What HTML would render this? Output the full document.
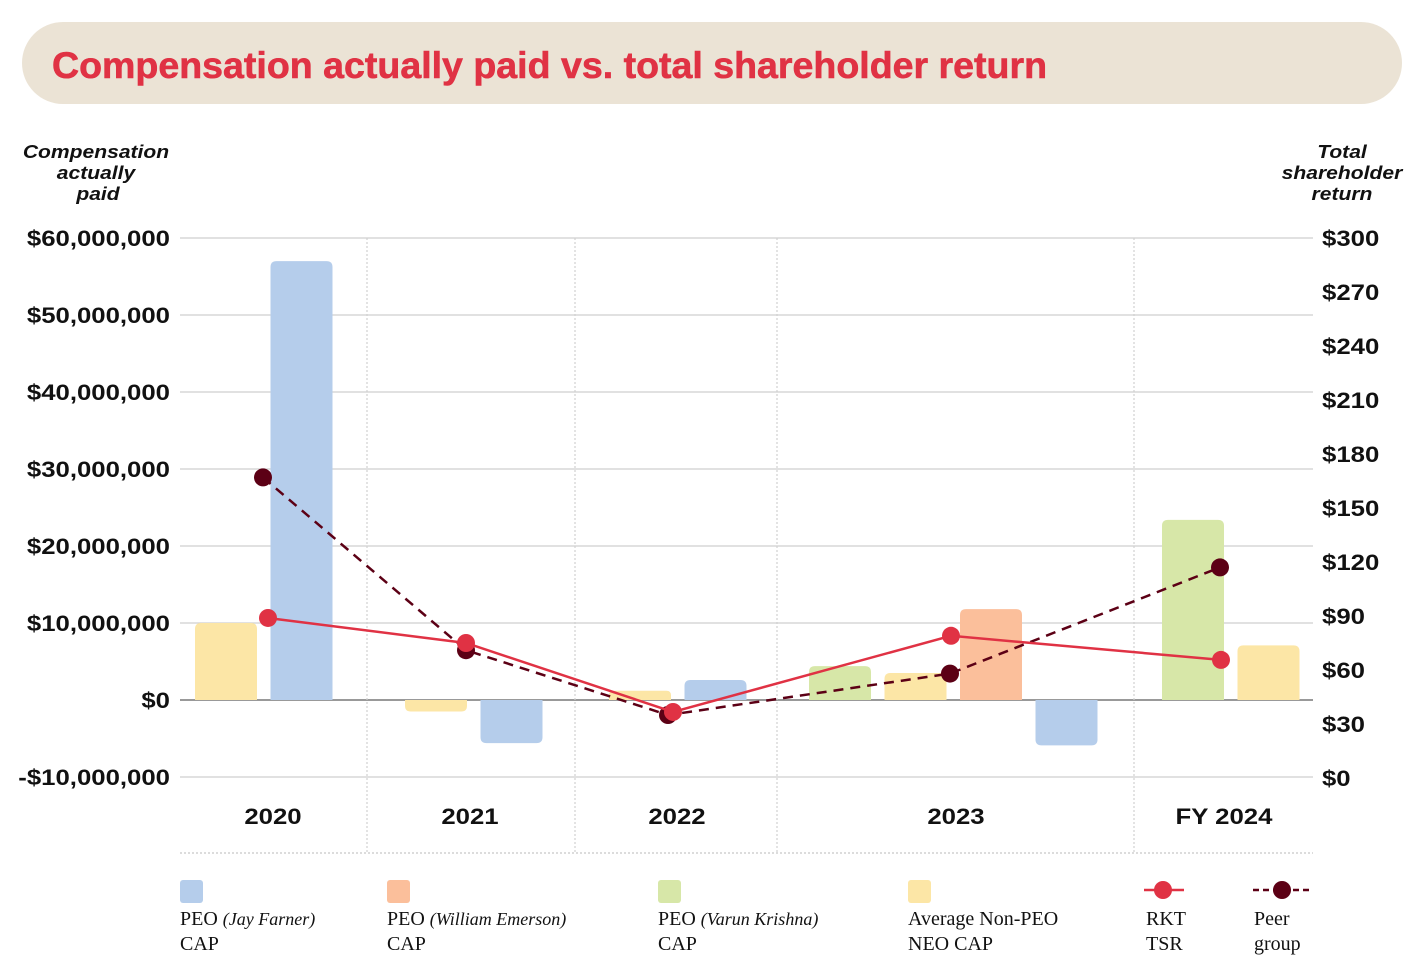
<!DOCTYPE html>
<html><head><meta charset="utf-8"><style>
html,body{margin:0;padding:0;background:#fff;width:1425px;height:975px;overflow:hidden}
svg{display:block}
.sans{font-family:"Liberation Sans",sans-serif}
.serif{font-family:"Liberation Serif",serif}
</style></head><body>
<svg id="chart" width="1425" height="975" viewBox="0 0 1425 975" xmlns="http://www.w3.org/2000/svg">
<rect x="22" y="22" width="1380" height="82" rx="41" fill="#ebe3d5"/>
<text x="52" y="78" class="sans" font-size="37" font-weight="bold" fill="#e03244" stroke="#e03244" stroke-width="0.6" textLength="995" lengthAdjust="spacingAndGlyphs">Compensation actually paid vs. total shareholder return</text>
<g class="sans stretch" font-size="18" font-style="italic" font-weight="bold" text-anchor="middle" fill="#111">
<text x="96" y="158">Compensation</text><text x="96" y="179">actually</text><text x="98" y="200">paid</text></g>
<g class="sans stretch" font-size="18" font-style="italic" font-weight="bold" text-anchor="middle" fill="#111">
<text x="1342" y="158">Total</text><text x="1342" y="179">shareholder</text><text x="1342" y="200">return</text></g>
<g id="grid"></g><g id="bars"></g><g id="lines"></g><g id="axes"></g>
<g id="legend" class="serif" font-size="20" fill="#111">
<rect x="180" y="880" width="23" height="23" rx="3" fill="#b5cdeb"/>
<text x="180" y="925">PEO <tspan font-style="italic" font-size="18">(Jay Farner)</tspan></text><text x="180" y="950">CAP</text>
<rect x="387" y="880" width="23" height="23" rx="3" fill="#fbbf9b"/>
<text x="387" y="925">PEO <tspan font-style="italic" font-size="18">(William Emerson)</tspan></text><text x="387" y="950">CAP</text>
<rect x="658" y="880" width="23" height="23" rx="3" fill="#d7e7a8"/>
<text x="658" y="925">PEO <tspan font-style="italic" font-size="18">(Varun Krishna)</tspan></text><text x="658" y="950">CAP</text>
<rect x="908" y="880" width="23" height="23" rx="3" fill="#fce6a6"/>
<text x="908" y="925">Average Non-PEO</text><text x="908" y="950">NEO CAP</text>
<line x1="1144" y1="890" x2="1184" y2="890" stroke="#e03244" stroke-width="2.5"/>
<circle cx="1163" cy="890" r="9" fill="#e03244"/>
<text x="1146" y="925">RKT</text><text x="1146" y="950">TSR</text>
<line x1="1253" y1="890" x2="1311" y2="890" stroke="#5c0015" stroke-width="2.5" stroke-dasharray="6,4"/>
<circle cx="1282" cy="890" r="9" fill="#5c0015"/>
<text x="1254" y="925">Peer</text><text x="1254" y="950">group</text>
</g>
</svg>
<script>
const categories = ["2020","2021","2022","2023","FY 2024"];
// bars per category in drawing order: series keys and values in $M
const barSeries = [
  ["nonpeo","farner"],
  ["nonpeo","farner"],
  ["nonpeo","farner"],
  ["krishna","nonpeo","emerson","farner"],
  ["krishna","nonpeo"]
];
const barValues = [
  [10.0, 57.0],
  [-1.5, -5.6],
  [1.2, 2.6],
  [4.4, 3.5, 11.8, -5.9],
  [23.4, 7.1]
];
const rktTSR = [88.9, 75, 36.7, 79, 65.6];
const peerTSR = [167, 71, 35, 58, 117];
const leftTicks = [60,50,40,30,20,10,0,-10];
const leftTickLabels = ["$60,000,000","$50,000,000","$40,000,000","$30,000,000","$20,000,000","$10,000,000","$0","-$10,000,000"];
const rightTicks = [300,270,240,210,180,150,120,90,60,30,0];

const NS="http://www.w3.org/2000/svg";
const colors={farner:"#b5cdeb",emerson:"#fbbf9b",krishna:"#d7e7a8",nonpeo:"#fce6a6"};
const yL = v => 700 - v*7.7;
const yR = v => 778 - v*1.8;
const groupStart=[195,405,609,809,1162], slotW=75.5, barW=62;
const catCenters=[273,470,677,956,1224];
const seps=[367,575,777,1134];
const L=180,R=1313;
function mk(tag,attrs,parent){const e=document.createElementNS(NS,tag);for(const k in attrs)e.setAttribute(k,attrs[k]);parent.appendChild(e);return e;}
const grid=document.getElementById('grid'),bars=document.getElementById('bars'),lines=document.getElementById('lines'),axes=document.getElementById('axes');
const stretchList=[];
leftTicks.forEach((t,i)=>{
  const g=mk('line',{x1:L,x2:R,y1:yL(t),y2:yL(t),stroke:t===0?'#999':'#cfcfcf','stroke-width':t===0?2:1.2},grid);
  
  
  const tx=mk('text',{x:170,y:yL(t)+8,'text-anchor':'end','font-size':22,'font-weight':'bold','font-family':'Liberation Sans, sans-serif',fill:'#111'},axes);
  tx.textContent=leftTickLabels[i];
  
  
  stretchList.push(tx);
});
rightTicks.forEach(t=>{
  const tx=mk('text',{x:1322,y:yR(t)+8,'font-size':22,'font-weight':'bold','font-family':'Liberation Sans, sans-serif',fill:'#111'},axes);
  tx.textContent='$'+t;
  
  
  stretchList.push(tx);
});
seps.forEach(x=>{
  const s=mk('line',{x1:x,x2:x,y1:238,y2:853,stroke:'#d0d0d0','stroke-width':1.2,'stroke-dasharray':'2,2'},grid);
  
  
});
const bl=mk('line',{x1:L,x2:R,y1:853,y2:853,stroke:'#c8c8c8','stroke-width':1.2,'stroke-dasharray':'2,2'},grid);


categories.forEach((c,i)=>{
  const tx=mk('text',{x:catCenters[i],y:824,'text-anchor':'middle','font-size':22,'font-weight':'bold','font-family':'Liberation Sans, sans-serif',fill:'#111'},axes);
  tx.textContent=c;
  
  
  stretchList.push(tx);
  barValues[i].forEach((v,j)=>{
    const x=groupStart[i]+j*slotW, y0=yL(0), y1=yL(v);
    const top=Math.min(y0,y1), h=Math.abs(y1-y0), r=Math.min(6,h/2);
    let d;
    if(v>=0) d=`M${x},${y0}V${top+r}Q${x},${top} ${x+r},${top}H${x+barW-r}Q${x+barW},${top} ${x+barW},${top+r}V${y0}Z`;
    else d=`M${x},${y0}V${y1-r}Q${x},${y1} ${x+r},${y1}H${x+barW-r}Q${x+barW},${y1} ${x+barW},${y1-r}V${y0}Z`;
    const b=mk('path',{d:d,fill:colors[barSeries[i][j]]},bars);
    
    
  });
});
const rktX=[268,466,673,951,1221], peerX=[263,466,668,950,1220];
function series(vals,xs,color,dash,name){
  const pts=vals.map((v,i)=>xs[i]+','+yR(v)).join(' ');
  const pl=mk('polyline',{points:pts,fill:'none',stroke:color,'stroke-width':2.5},lines);
  if(dash)pl.setAttribute('stroke-dasharray','10,7');
  
  
  vals.forEach((v,i)=>{
    const c=mk('circle',{cx:xs[i],cy:yR(v),r:9,fill:color},lines);
    
    
  });
}
series(peerTSR,peerX,'#5c0015',true,'peer-group');
series(rktTSR,rktX,'#e03244',false,'rkt-tsr');
document.querySelectorAll('.stretch text').forEach(t=>stretchList.push(t));
stretchList.forEach(t=>{
  const w=t.getComputedTextLength();
  t.setAttribute('textLength', (w*1.17).toFixed(1));
  t.setAttribute('lengthAdjust','spacingAndGlyphs');
});
</script>
</body></html>
